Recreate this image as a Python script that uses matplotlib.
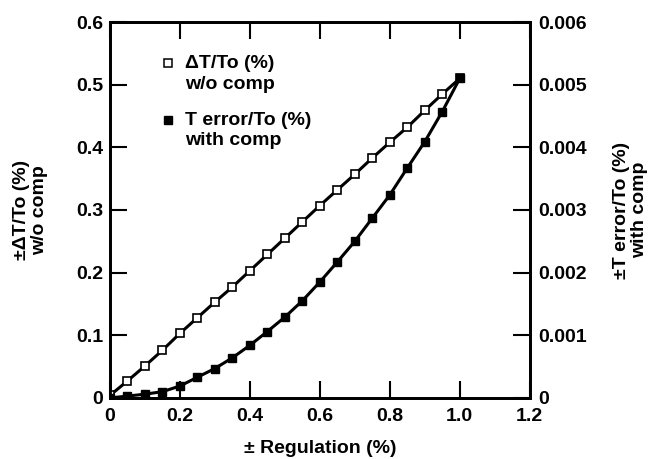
import matplotlib
matplotlib.use("Agg")
import matplotlib.pyplot as plt
from matplotlib.ticker import FixedLocator, FixedFormatter

plt.rcParams['font.family'] = ['Liberation Sans', 'DejaVu Sans']
plt.rcParams['font.weight'] = 'bold'

regulation = [0, 0.05, 0.1, 0.15, 0.2, 0.25, 0.3, 0.35, 0.4, 0.45, 0.5,
              0.55, 0.6, 0.65, 0.7, 0.75, 0.8, 0.85, 0.9, 0.95, 1.0]
dT_wo_comp = [0.004, 0.027, 0.051, 0.076, 0.103, 0.128, 0.153, 0.177, 0.203, 0.229, 0.255,
              0.281, 0.307, 0.332, 0.357, 0.383, 0.408, 0.432, 0.459, 0.485, 0.51]
Terr_with_comp = [0.0000, 0.00003, 0.00006, 0.00010, 0.00019, 0.00033, 0.00047, 0.00064, 0.00084, 0.00106, 0.00129,
                  0.00155, 0.00185, 0.00217, 0.00250, 0.00287, 0.00324, 0.00367, 0.00409, 0.00457, 0.0051]

xticks = [0, 0.2, 0.4, 0.6, 0.8, 1.0, 1.2]
xticklabels = ['0', '0.2', '0.4', '0.6', '0.8', '1.0', '1.2']
yticks_left = [0, 0.1, 0.2, 0.3, 0.4, 0.5, 0.6]
yticklabels_left = ['0', '0.1', '0.2', '0.3', '0.4', '0.5', '0.6']
yticks_right = [0, 0.001, 0.002, 0.003, 0.004, 0.005, 0.006]
yticklabels_right = ['0', '0.001', '0.002', '0.003', '0.004', '0.005', '0.006']

FS = 14

fig = plt.figure(figsize=(6.54, 4.59), dpi=100)
ax = fig.add_axes([0.168, 0.133, 0.642, 0.819])
ax2 = ax.twinx()

ax.plot(regulation, dT_wo_comp, color='black', lw=2.2, marker='s', ms=6,
        mfc='white', mec='black', mew=1.2, zorder=3)
ax2.plot(regulation, Terr_with_comp, color='black', lw=2.2, marker='s', ms=6,
         mfc='black', mec='black', zorder=3)

ax.set_xlim(0, 1.2)
ax.set_ylim(0, 0.6)
ax2.set_ylim(0, 0.006)

ax.xaxis.set_major_locator(FixedLocator(xticks))
ax.xaxis.set_major_formatter(FixedFormatter(xticklabels))
ax.yaxis.set_major_locator(FixedLocator(yticks_left))
ax.yaxis.set_major_formatter(FixedFormatter(yticklabels_left))
ax2.yaxis.set_major_locator(FixedLocator(yticks_right))
ax2.yaxis.set_major_formatter(FixedFormatter(yticklabels_right))

ax.tick_params(axis='x', direction='in', length=12, width=1.5, top=True,
               labelsize=FS, pad=7)
ax.tick_params(axis='y', direction='in', length=12, width=1.5, labelsize=FS, pad=5)
ax2.tick_params(axis='y', direction='in', length=12, width=1.5, labelsize=FS, pad=6)

for a in (ax, ax2):
    for s in a.spines.values():
        s.set_linewidth(2)

ax.set_xlabel('± Regulation (%)', fontsize=FS, fontweight='bold', labelpad=11)
ax.set_ylabel('±ΔT/To (%)\nw/o comp', fontsize=FS, fontweight='bold', labelpad=20,
              linespacing=1.1)
ax2.set_ylabel('±T error/To (%)\nwith comp', fontsize=FS, fontweight='bold',
               rotation=90, labelpad=19, linespacing=1.1)

# legend
ax.plot([0.138], [0.891], transform=ax.transAxes, marker='s', ms=5.5, mfc='white',
        mec='black', mew=1.1, ls='none', clip_on=False)
ax.text(0.179, 0.891, 'ΔT/To (%)', transform=ax.transAxes, fontsize=FS,
        fontweight='bold', va='center', ha='left')
ax.text(0.179, 0.835, 'w/o comp', transform=ax.transAxes, fontsize=FS,
        fontweight='bold', va='center', ha='left')
ax.plot([0.138], [0.739], transform=ax.transAxes, marker='s', ms=5.5, mfc='black',
        mec='black', ls='none', clip_on=False)
ax.text(0.179, 0.739, 'T error/To (%)', transform=ax.transAxes, fontsize=FS,
        fontweight='bold', va='center', ha='left')
ax.text(0.179, 0.686, 'with comp', transform=ax.transAxes, fontsize=FS,
        fontweight='bold', va='center', ha='left')

fig.savefig('out.png', dpi=100)
